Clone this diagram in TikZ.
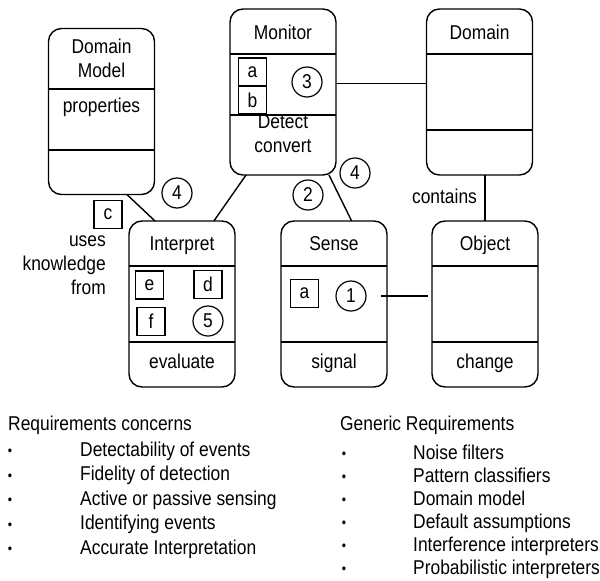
\documentclass[tikz,border=0pt]{standalone}
\usepackage{fontspec}
\setmainfont[FakeStretch=0.87]{Liberation Sans}
\usetikzlibrary{positioning}

\begin{document}
\begin{tikzpicture}[x=1pt,y=-1pt,font=\fontsize{20}{24}\selectfont,
        classbox/.style={draw,line width=1.4pt,rounded corners=13pt,minimum width=106pt,minimum height=166pt,inner sep=0pt,outer sep=0pt},
        tag/.style={draw,line width=1.3pt,minimum width=28pt,minimum height=28pt,inner sep=0pt,outer sep=0pt},
        num/.style={draw,circle,line width=1.2pt,minimum size=30pt,inner sep=0pt},
        lbl/.style={inner sep=0pt,text height=14.3pt,text depth=3.8pt},
        dot/.style={inner sep=0pt,anchor=base,font=\fontsize{14}{14}\selectfont},
        link/.style={line width=1.4pt}]
        \useasboundingbox (0,0) rectangle (600,581);
        \node[classbox] (dommod) at (101.5,111.5) {};
        \node[classbox] (monitor) at (283,92) {};
        \node[classbox] (domain) at (479.5,92) {};
        \node[classbox] (interp) at (182,304) {};
        \node[classbox] (sense) at (334,304) {};
        \node[classbox] (object) at (485,304) {};
        \draw[link] (dommod.west |- 0,89) -- (dommod.east |- 0,89);
        \draw[link] (dommod.west |- 0,150) -- (dommod.east |- 0,150);
        \draw[link] (monitor.west |- 0,54) -- (monitor.east |- 0,54);
        \draw[link] (monitor.west |- 0,115) -- (monitor.east |- 0,115);
        \draw[link] (domain.west |- 0,54) -- (domain.east |- 0,54);
        \draw[link] (domain.west |- 0,130) -- (domain.east |- 0,130);
        \foreach \b in {interp,sense,object} {
            \draw[link] (\b.west |- 0,266) -- (\b.east |- 0,266);
            \draw[link] (\b.west |- 0,342) -- (\b.east |- 0,342);
        }

        \node[inner sep=0pt,align=center] (dmname) at (101.5,58.5) {Domain\\Model};
        \node[lbl] (dmprop) at (101.5,107) {properties};
        \node[lbl] (monname) at (283,34) {Monitor};
        \node[inner sep=0pt,align=center] (monop) at (283,134) {Detect\\convert};
        \node[lbl] (domname) at (479.5,34) {Domain};
        \node[lbl] (intname) at (182,245) {Interpret};
        \node[lbl] (intop) at (182,363) {evaluate};
        \node[lbl] (sensename) at (334,245) {Sense};
        \node[lbl] (senseop) at (334,363) {signal};
        \node[lbl] (objname) at (485,245) {Object};
        \node[lbl] (objop) at (485,363) {change};

        \node[tag] (mona) at (252.5,72) {a};
        \node[tag,below=0pt of mona] (monb) {b};
        \node[tag] (sensea) at (304.5,293.5) {a};
        \node[tag] (kc) at (108,214.5) {c};
        \node[tag] (ke) at (149.5,285) {e};
        \node[tag] (kd) at (208,284.5) {d};
        \node[tag] (kf) at (151,321.5) {f};

        \node[num] (one) at (351,296) {1};
        \node[num] (two) at (308,195) {2};
        \node[num] (three) at (307,82) {3};
        \node[num] (fourA) at (177,193) {4};
        \node[num] (fourB) at (355,173) {4};
        \node[num] (five) at (208,321) {5};

        \draw[link] (dommod.-73) -- (interp.108);
        \draw[link] (monitor.-114) -- (interp.69);
        \draw[link] (monitor.-61) -- (sense.78);
        \draw[link] (monitor.9) -- (domain.171);
        \draw[link] (object.north) -- (object.north |- domain.south);
        \draw[link] ([xshift=-6pt]sense.east |- one) -- ([xshift=-4pt]object.west |- one);

        \node[lbl] (contains) at (444.5,198) {contains};
        \node[inner sep=0pt,align=right,anchor=east] (uses) at (106,265) {uses\\knowledge\\from};

        \node[lbl,anchor=west] (reqhead) at (8,425) {Requirements concerns};
        \foreach \txt [count=\i] in {Detectability of events,Fidelity of detection,Active or passive sensing,Identifying events,Accurate Interpretation} {
            \node[lbl,anchor=west] (req\i) at (80,{451+24.5*(\i-1)}) {\txt};
            \node[dot] (reqdot\i) at (10,{455.5+24.5*(\i-1)}) {\textbullet};
        }
        \node[lbl,anchor=west] (genhead) at (340,425) {Generic Requirements};
        \foreach \txt [count=\i] in {Noise filters,Pattern classifiers,Domain model,Default assumptions,Interference interpreters,Probabilistic interpreters} {
            \node[lbl,anchor=west] (gen\i) at (413,{454+23*(\i-1)}) {\txt};
            \node[dot] (gendot\i) at (344,{458.5+23*(\i-1)}) {\textbullet};
        }
\end{tikzpicture}
\end{document}
